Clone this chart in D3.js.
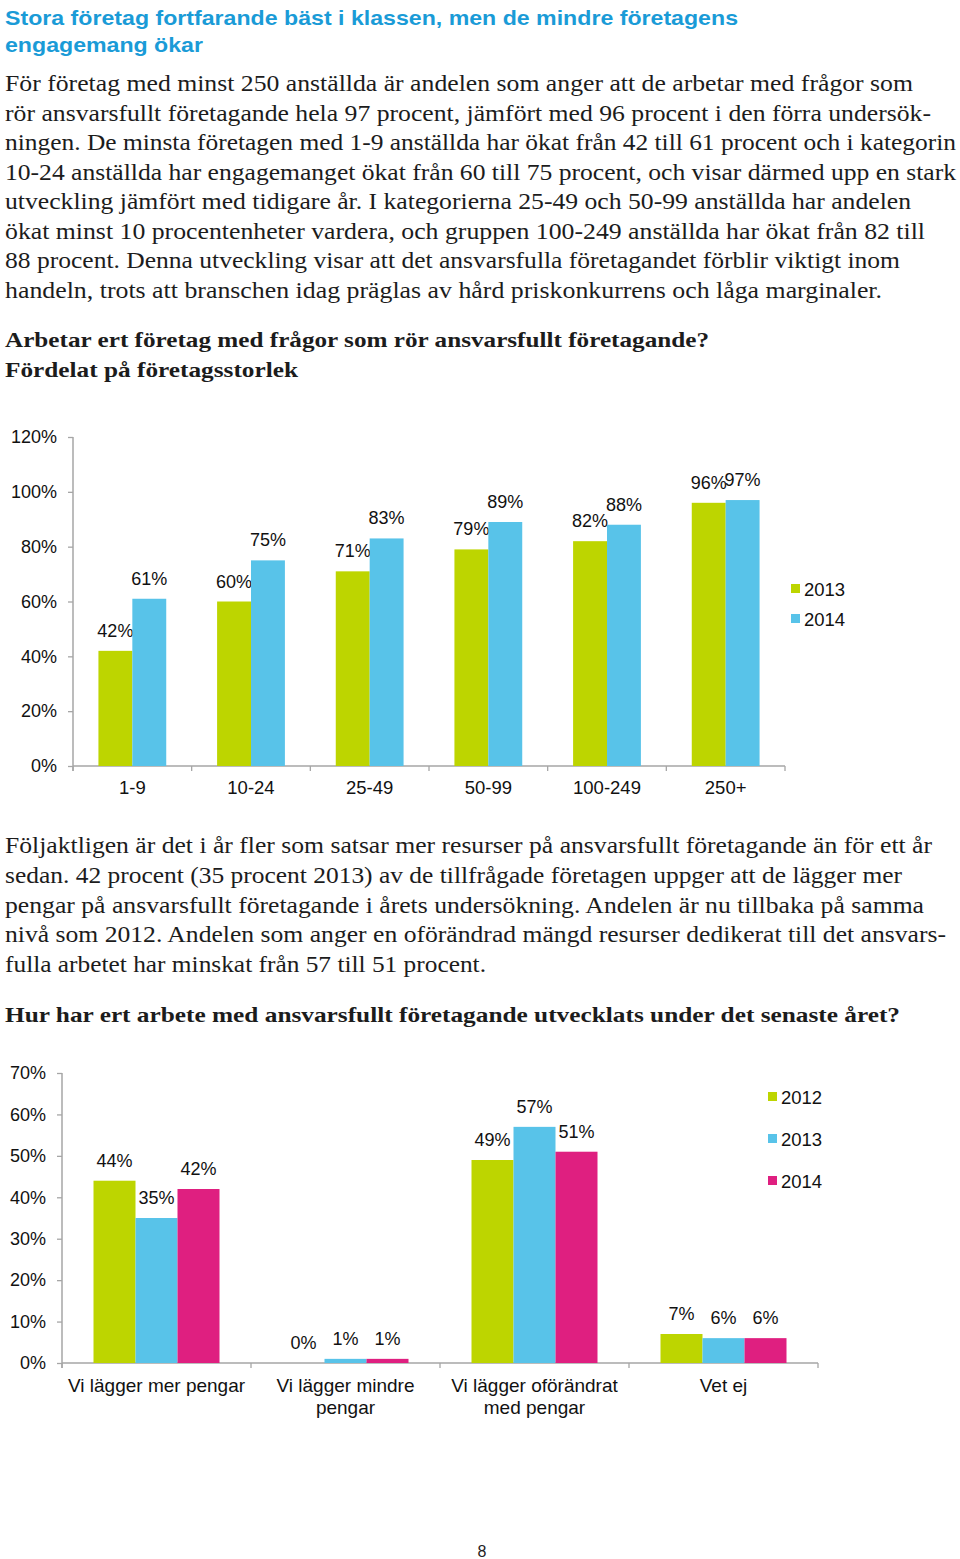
<!DOCTYPE html>
<html><head><meta charset="utf-8">
<script src="https://cdn.jsdelivr.net/npm/d3@7/dist/d3.min.js"></script>
<style>
html,body{margin:0;padding:0;background:#fff;}
svg{display:block;}
</style>
</head><body>
<svg id="page" width="960" height="1559"></svg>
<script>
// ---------- DATA ----------
const sizeCategories = ["1-9","10-24","25-49","50-99","100-249","250+"];
const size2013 = [42,60,71,79,82,96];
const size2014 = [61,75,83,89,88,97];
const sizeSeries = ["2013","2014"];
const sizeTicks = [0,20,40,60,80,100,120];

const devCategories = ["Vi lägger mer pengar","Vi lägger mindre pengar","Vi lägger oförändrat med pengar","Vet ej"];
const devCategoryLines = [["Vi lägger mer pengar"],["Vi lägger mindre","pengar"],["Vi lägger oförändrat","med pengar"],["Vet ej"]];
const dev2012 = [44,0,49,7];
const dev2013 = [35,1,57,6];
const dev2014 = [42,1,51,6];
const devSeries = ["2012","2013","2014"];
const devTicks = [0,10,20,30,40,50,60,70];

const titleLines = ["Stora företag fortfarande bäst i klassen, men de mindre företagens","engagemang ökar"];
const para1 = [
"För företag med minst 250 anställda är andelen som anger att de arbetar med frågor som",
"rör ansvarsfullt företagande hela 97 procent, jämfört med 96 procent i den förra undersök-",
"ningen. De minsta företagen med 1-9 anställda har ökat från 42 till 61 procent och i kategorin",
"10-24 anställda har engagemanget ökat från 60 till 75 procent, och visar därmed upp en stark",
"utveckling jämfört med tidigare år. I kategorierna 25-49 och 50-99 anställda har andelen",
"ökat minst 10 procentenheter vardera, och gruppen 100-249 anställda har ökat från 82 till",
"88 procent. Denna utveckling visar att det ansvarsfulla företagandet förblir viktigt inom",
"handeln, trots att branschen idag präglas av hård priskonkurrens och låga marginaler."];
const heading1 = ["Arbetar ert företag med frågor som rör ansvarsfullt företagande?","Fördelat på företagsstorlek"];
const para2 = [
"Följaktligen är det i år fler som satsar mer resurser på ansvarsfullt företagande än för ett år",
"sedan. 42 procent (35 procent 2013) av de tillfrågade företagen uppger att de lägger mer",
"pengar på ansvarsfullt företagande i årets undersökning. Andelen är nu tillbaka på samma",
"nivå som 2012. Andelen som anger en oförändrad mängd resurser dedikerat till det ansvars-",
"fulla arbetet har minskat från 57 till 51 procent."];
const heading2 = ["Hur har ert arbete med ansvarsfullt företagande utvecklats under det senaste året?"];

// ---------- LAYOUT ----------
const COLORS = {g:"#bdd500", b:"#58c3e9", p:"#df1f80"};
const svg = d3.select("#page");
const SANS = "'Liberation Sans', Arial, sans-serif";
const SERIF = "'Liberation Serif', 'DejaVu Serif', serif";

function textBlock(lines, x, y0, lh, ends, opts){
  lines.forEach((t,i)=>{
    const el = svg.append("text").attr("x",x).attr("y",y0+i*lh)
      .attr("font-family",opts.family).attr("font-size",opts.size)
      .attr("font-weight",opts.weight||"normal").attr("fill",opts.fill)
      .text(t);
    if (ends && ends[i]) el.attr("textLength", ends[i]-x).attr("lengthAdjust","spacingAndGlyphs");
  });
}

textBlock(titleLines, 5, 25, 27, [738, 203], {family:SANS,size:21,weight:"bold",fill:"#1a9bd7"});
textBlock(para1, 5, 91, 29.5, [913,931,956,956,911,925,900,882], {family:SERIF,size:23,fill:"#1c1c1c"});
textBlock(heading1, 5, 347, 30, [709,298], {family:SERIF,size:22,weight:"bold",fill:"#1c1c1c"});
textBlock(para2, 5, 853, 29.8, [932,902,924,946,486], {family:SERIF,size:23,fill:"#1c1c1c"});
textBlock(heading2, 5, 1022, 30, [900], {family:SERIF,size:22,weight:"bold",fill:"#1c1c1c"});

svg.append("text").attr("x",482).attr("y",1557).attr("text-anchor","middle")
  .attr("font-family",SANS).attr("font-size",16).attr("fill","#222").text("8");

// ---------- generic grouped bar chart ----------
function groupedChart(cfg){
  const g = svg.append("g");
  const x = d3.scaleBand().domain(cfg.categories).range([cfg.x0, cfg.x1]).paddingInner(0).paddingOuter(0);
  const xi = d3.scaleBand().domain(cfg.series).range([0, x.bandwidth()]).paddingInner(0).paddingOuter(0.75);
  const y = d3.scaleLinear().domain([0, cfg.max]).range([cfg.y0, cfg.y1]);
  const axisColor = "#a6a6a6";

  // y axis
  const ya = g.append("g").attr("transform",`translate(${cfg.x0},0)`)
    .call(d3.axisLeft(y).tickValues(cfg.ticks).tickSize(5).tickPadding(11).tickFormat(d=>d+"%"));
  ya.select(".domain").remove();
  g.append("line").attr("x1",cfg.x0).attr("x2",cfg.x0).attr("y1",cfg.y1).attr("y2",cfg.y0+5)
    .attr("stroke",axisColor).attr("stroke-width",1.5);
  ya.selectAll(".tick line").attr("stroke",axisColor).attr("stroke-width",1.3);
  ya.selectAll(".tick text").attr("font-family",SANS).attr("font-size",18).attr("fill","#111");

  // x axis
  g.append("line").attr("x1",cfg.x0).attr("x2",cfg.x1).attr("y1",cfg.y0).attr("y2",cfg.y0)
    .attr("stroke",axisColor).attr("stroke-width",1.5);
  const bounds = cfg.categories.map(c=>x(c)).concat([cfg.x1]);
  g.selectAll(".xt").data(bounds).join("line")
    .attr("x1",d=>d).attr("x2",d=>d).attr("y1",cfg.y0).attr("y2",cfg.y0+5)
    .attr("stroke",axisColor).attr("stroke-width",1.3);

  // bars
  cfg.series.forEach((s,si)=>{
    const vals = cfg.values[si];
    g.selectAll(".bar"+si).data(cfg.categories).join("rect")
      .attr("x",c=>x(c)+xi(s)).attr("width",xi.bandwidth())
      .attr("y",(c,i)=>y(vals[i])).attr("height",(c,i)=>y(0)-y(vals[i]))
      .attr("fill",cfg.colors[si]);
    g.selectAll(".lab"+si).data(cfg.categories).join("text")
      .attr("x",c=>x(c)+xi(s)+xi.bandwidth()/2)
      .attr("y",(c,i)=>y(vals[i])-14)
      .attr("text-anchor","middle").attr("font-family",SANS).attr("font-size",18).attr("fill","#111")
      .text((c,i)=>vals[i]+"%");
  });

  // category labels
  cfg.categories.forEach((c,i)=>{
    const lines = cfg.catLines ? cfg.catLines[i] : [c];
    lines.forEach((t,li)=>{
      g.append("text").attr("x",x(c)+x.bandwidth()/2).attr("y",cfg.catY+li*cfg.catLH)
        .attr("text-anchor","middle").attr("font-family",SANS).attr("font-size",cfg.catSize).attr("fill","#111").text(t);
    });
  });

  // legend
  cfg.series.forEach((s,si)=>{
    const ly = cfg.legY + si*cfg.legLH;
    g.append("rect").attr("x",cfg.legX).attr("y",ly-12).attr("width",9).attr("height",9).attr("fill",cfg.colors[si]);
    g.append("text").attr("x",cfg.legX+13).attr("y",ly).attr("font-family",SANS).attr("font-size",18.5)
      .attr("fill","#111").text(s);
  });
}

groupedChart({
  categories: sizeCategories, series: sizeSeries, values:[size2013,size2014],
  colors:[COLORS.g, COLORS.b], max:120, ticks:sizeTicks,
  x0:73, x1:785, y0:766, y1:437, catY:794, catLH:22, catSize:18.5,
  legX:791, legY:596, legLH:30
});

groupedChart({
  categories: devCategories, catLines: devCategoryLines, series: devSeries, values:[dev2012,dev2013,dev2014],
  colors:[COLORS.g, COLORS.b, COLORS.p], max:70, ticks:devTicks,
  x0:62, x1:818, y0:1363, y1:1073, catY:1392, catLH:22, catSize:19,
  legX:768, legY:1104, legLH:42
});
</script>
</body></html>
